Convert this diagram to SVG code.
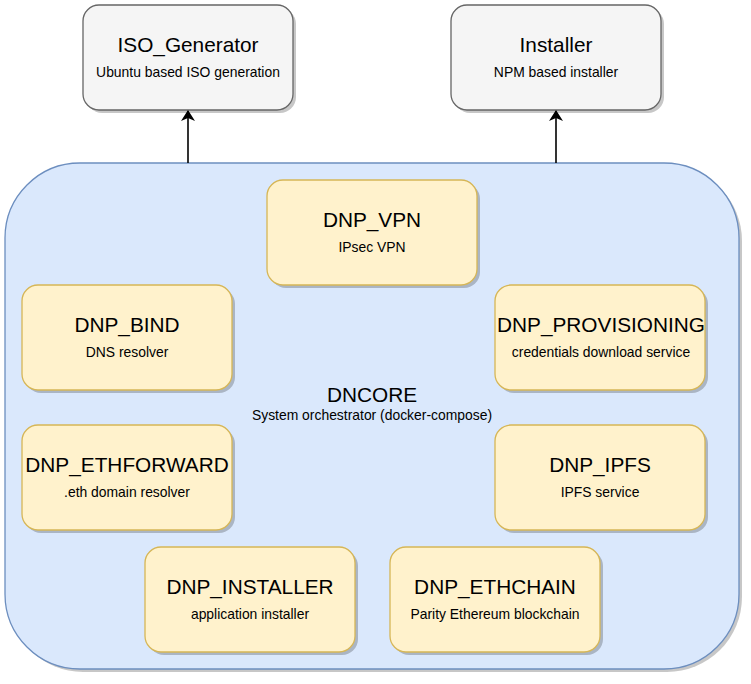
<svg xmlns="http://www.w3.org/2000/svg" width="751" height="684" viewBox="0 0 751 684">
<defs>
<style>
.shadow{fill:#000;opacity:0.22}
.ext{fill:#f5f5f5;stroke:#666666;stroke-width:1.3}
.core{fill:#dae8fc;stroke:#6c8ebf;stroke-width:1.3}
.dnp{fill:#fff2cc;stroke:#d6b656;stroke-width:1.3}
.t{font-family:"Liberation Sans",Arial,sans-serif;font-size:20.8px;fill:#000;text-anchor:middle}
.s{font-family:"Liberation Sans",Arial,sans-serif;font-size:13.9px;fill:#000;text-anchor:middle}
.edge{stroke:#000;stroke-width:1.6;fill:none}
</style>
<marker id="arr" markerWidth="11" markerHeight="14" viewBox="0 0 11 14" refX="10" refY="7" orient="auto" markerUnits="userSpaceOnUse">
<path d="M0,0 L11,7 L0,14 L3,7 Z" fill="#000"/>
</marker>
</defs>
<rect width="751" height="684" fill="#ffffff"/>

<g id="ISO_Generator">
<rect class="shadow" x="86" y="8" width="210" height="105" rx="16"/>
<rect class="ext" x="83" y="5" width="210" height="105" rx="16"/>
<text class="t" x="188" y="52">ISO_Generator</text>
<text class="s" x="188" y="77">Ubuntu based ISO generation</text>
</g>

<g id="Installer">
<rect class="shadow" x="454" y="8" width="210" height="105" rx="16"/>
<rect class="ext" x="451" y="5" width="210" height="105" rx="16"/>
<text class="t" x="556" y="52">Installer</text>
<text class="s" x="556" y="77">NPM based installer</text>
</g>

<g id="DNCORE">
<rect class="shadow" x="8" y="166" width="734" height="506" rx="75"/>
<rect class="core" x="5" y="163" width="734" height="506" rx="75"/>
<text class="t" x="372" y="402">DNCORE</text>
<text class="s" x="372" y="420">System orchestrator (docker-compose)</text>
</g>

<g id="connectors">
<line class="edge" x1="188" y1="163" x2="188" y2="111" marker-end="url(#arr)"/>
<line class="edge" x1="556" y1="163" x2="556" y2="111" marker-end="url(#arr)"/>
</g>

<g id="DNP_VPN">
<rect class="shadow" x="270" y="183" width="210" height="105" rx="16"/>
<rect class="dnp" x="267" y="180" width="210" height="105" rx="16"/>
<text class="t" x="372" y="227">DNP_VPN</text>
<text class="s" x="372" y="252">IPsec VPN</text>
</g>

<g id="DNP_BIND">
<rect class="shadow" x="25" y="288" width="210" height="105" rx="16"/>
<rect class="dnp" x="22" y="285" width="210" height="105" rx="16"/>
<text class="t" x="127" y="332">DNP_BIND</text>
<text class="s" x="127" y="357">DNS resolver</text>
</g>

<g id="DNP_PROVISIONING">
<rect class="shadow" x="498" y="288" width="210" height="105" rx="16"/>
<rect class="dnp" x="495" y="285" width="210" height="105" rx="16"/>
<text class="t" x="601" y="332">DNP_PROVISIONING</text>
<text class="s" x="601" y="357">credentials download service</text>
</g>

<g id="DNP_ETHFORWARD">
<rect class="shadow" x="25" y="428" width="210" height="105" rx="16"/>
<rect class="dnp" x="22" y="425" width="210" height="105" rx="16"/>
<text class="t" x="127" y="472">DNP_ETHFORWARD</text>
<text class="s" x="127" y="497">.eth domain resolver</text>
</g>

<g id="DNP_IPFS">
<rect class="shadow" x="498" y="428" width="210" height="105" rx="16"/>
<rect class="dnp" x="495" y="425" width="210" height="105" rx="16"/>
<text class="t" x="600" y="472">DNP_IPFS</text>
<text class="s" x="600" y="497">IPFS service</text>
</g>

<g id="DNP_INSTALLER">
<rect class="shadow" x="148" y="550" width="210" height="105" rx="16"/>
<rect class="dnp" x="145" y="547" width="210" height="105" rx="16"/>
<text class="t" x="250" y="594">DNP_INSTALLER</text>
<text class="s" x="250" y="619">application installer</text>
</g>

<g id="DNP_ETHCHAIN">
<rect class="shadow" x="393" y="550" width="210" height="105" rx="16"/>
<rect class="dnp" x="390" y="547" width="210" height="105" rx="16"/>
<text class="t" x="495" y="594">DNP_ETHCHAIN</text>
<text class="s" x="495" y="619">Parity Ethereum blockchain</text>
</g>
</svg>
